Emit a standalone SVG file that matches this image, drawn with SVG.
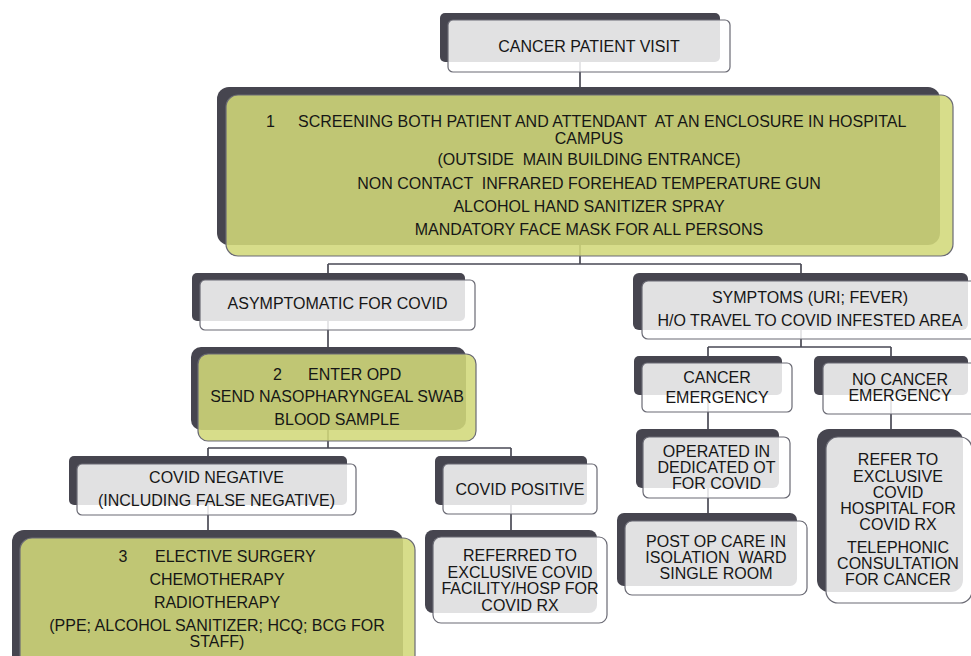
<svg xmlns="http://www.w3.org/2000/svg" width="971" height="656" viewBox="0 0 971 656">
<style>
.dk{fill:#46454f}
.fg{fill:#ffffff;fill-opacity:0.84;stroke:#6a6a74;stroke-width:1.2}
.gr{fill:#d2d87a;fill-opacity:0.88;stroke:#6a6a74;stroke-width:1.2}
.t{font-family:"Liberation Sans",Arial,sans-serif;font-size:16px;fill:#161616;text-anchor:middle}
.s{text-anchor:start}
.c{stroke:#4a4a55;stroke-width:1.7;fill:none}
</style>
<rect width="971" height="656" fill="#ffffff"/>
<g id="connectors">
<path class="c" d="M580,62V87"/>
<path class="c" d="M580,245V264M328,264H801M328,264V273M801,264V273"/>
<path class="c" d="M328,321V347"/>
<path class="c" d="M328,430V448M208,448H511M208,448V456M511,448V456"/>
<path class="c" d="M208,505V530"/>
<path class="c" d="M511,505V530"/>
<path class="c" d="M801,330V347M708,347H891M708,347V356M891,347V356"/>
<path class="c" d="M708,395V429"/>
<path class="c" d="M708,488V513"/>
<path class="c" d="M891,395V429"/>
</g>
<g id="n-visit">
<rect class="dk" x="440" y="13" width="280" height="49" rx="5"/>
<rect class="fg" x="448" y="20" width="282" height="52" rx="5"/>
<text class="t" x="589" y="52">CANCER PATIENT VISIT</text>
</g>
<g id="n-screening">
<rect class="dk" x="217" y="87" width="723" height="158" rx="12"/>
<rect class="gr" x="226" y="95" width="727" height="161" rx="12"/>
<text class="t s" x="266" y="127">1</text>
<text class="t s" x="298" y="127" xml:space="preserve">SCREENING BOTH PATIENT AND ATTENDANT  AT AN ENCLOSURE IN HOSPITAL</text>
<text class="t" x="589" y="144">CAMPUS</text>
<text class="t" x="589" y="165" xml:space="preserve">(OUTSIDE  MAIN BUILDING ENTRANCE)</text>
<text class="t" x="589" y="189" xml:space="preserve">NON CONTACT  INFRARED FOREHEAD TEMPERATURE GUN</text>
<text class="t" x="589" y="212">ALCOHOL HAND SANITIZER SPRAY</text>
<text class="t" x="589" y="235">MANDATORY FACE MASK FOR ALL PERSONS</text>
</g>
<g id="n-asymp">
<rect class="dk" x="192" y="273" width="273" height="48" rx="5"/>
<rect class="fg" x="200" y="280" width="275" height="50" rx="5"/>
<text class="t" x="337.5" y="309">ASYMPTOMATIC FOR COVID</text>
</g>
<g id="n-opd">
<rect class="dk" x="191" y="347" width="275" height="83" rx="10"/>
<rect class="gr" x="198" y="354" width="278" height="87" rx="10"/>
<text class="t" x="277.5" y="380">2</text>
<text class="t s" x="308" y="380">ENTER OPD</text>
<text class="t" x="337" y="402">SEND NASOPHARYNGEAL SWAB</text>
<text class="t" x="337" y="425">BLOOD SAMPLE</text>
</g>
<g id="n-neg">
<rect class="dk" x="69" y="456" width="278" height="49" rx="5"/>
<rect class="fg" x="77" y="464" width="279" height="51" rx="5"/>
<text class="t" x="216.5" y="483">COVID NEGATIVE</text>
<text class="t" x="216.5" y="506">(INCLUDING FALSE NEGATIVE)</text>
</g>
<g id="n-pos">
<rect class="dk" x="435" y="456" width="152" height="49" rx="5"/>
<rect class="fg" x="443" y="464" width="154" height="50" rx="5"/>
<text class="t" x="520" y="495">COVID POSITIVE</text>
</g>
<g id="n-referred">
<rect class="dk" x="425" y="530" width="172" height="83" rx="8"/>
<rect class="fg" x="433" y="537" width="174" height="86" rx="8"/>
<text class="t" x="520" y="561">REFERRED TO</text>
<text class="t" x="520" y="578">EXCLUSIVE COVID</text>
<text class="t" x="520" y="594">FACILITY/HOSP FOR</text>
<text class="t" x="520" y="611">COVID RX</text>
</g>
<g id="n-elective">
<rect class="dk" x="12" y="530" width="391" height="140" rx="12"/>
<rect class="gr" x="20" y="538" width="395" height="135" rx="12"/>
<text class="t" x="123" y="562">3</text>
<text class="t s" x="155" y="562">ELECTIVE SURGERY</text>
<text class="t" x="217" y="585">CHEMOTHERAPY</text>
<text class="t" x="217" y="608">RADIOTHERAPY</text>
<text class="t" x="217" y="631">(PPE; ALCOHOL SANITIZER; HCQ; BCG FOR</text>
<text class="t" x="217" y="647">STAFF)</text>
</g>
<g id="n-symptoms">
<rect class="dk" x="633" y="273" width="335" height="57" rx="6"/>
<rect class="fg" x="642" y="281" width="336" height="58" rx="6"/>
<text class="t" x="810" y="303">SYMPTOMS (URI; FEVER)</text>
<text class="t" x="810" y="326">H/O TRAVEL TO COVID INFESTED AREA</text>
</g>
<g id="n-cancer-em">
<rect class="dk" x="634" y="356" width="148" height="39" rx="5"/>
<rect class="fg" x="642" y="363" width="150" height="49" rx="5"/>
<text class="t" x="717" y="383">CANCER</text>
<text class="t" x="717" y="403">EMERGENCY</text>
</g>
<g id="n-no-cancer">
<rect class="dk" x="814" y="356" width="154" height="39" rx="5"/>
<rect class="fg" x="823" y="363" width="155" height="51" rx="5"/>
<text class="t" x="900" y="385">NO CANCER</text>
<text class="t" x="900" y="401">EMERGENCY</text>
</g>
<g id="n-operated">
<rect class="dk" x="636" y="429" width="143" height="59" rx="6"/>
<rect class="fg" x="643" y="437" width="147" height="61" rx="6"/>
<text class="t" x="716.5" y="457">OPERATED IN</text>
<text class="t" x="716.5" y="473">DEDICATED OT</text>
<text class="t" x="716.5" y="489">FOR COVID</text>
</g>
<g id="n-postop">
<rect class="dk" x="617" y="513" width="180" height="73" rx="7"/>
<rect class="fg" x="625" y="521" width="182" height="74" rx="7"/>
<text class="t" x="716" y="547">POST OP CARE IN</text>
<text class="t" x="716" y="563" xml:space="preserve">ISOLATION  WARD</text>
<text class="t" x="716" y="579">SINGLE ROOM</text>
</g>
<g id="n-refer">
<rect class="dk" x="817" y="429" width="146" height="163" rx="12"/>
<rect class="fg" x="826" y="437" width="146" height="166" rx="12"/>
<text class="t" x="898" y="465">REFER TO</text>
<text class="t" x="898" y="482">EXCLUSIVE</text>
<text class="t" x="898" y="498">COVID</text>
<text class="t" x="898" y="514">HOSPITAL FOR</text>
<text class="t" x="898" y="530">COVID RX</text>
<text class="t" x="898" y="553">TELEPHONIC</text>
<text class="t" x="898" y="569">CONSULTATION</text>
<text class="t" x="898" y="585">FOR CANCER</text>
</g>
</svg>
